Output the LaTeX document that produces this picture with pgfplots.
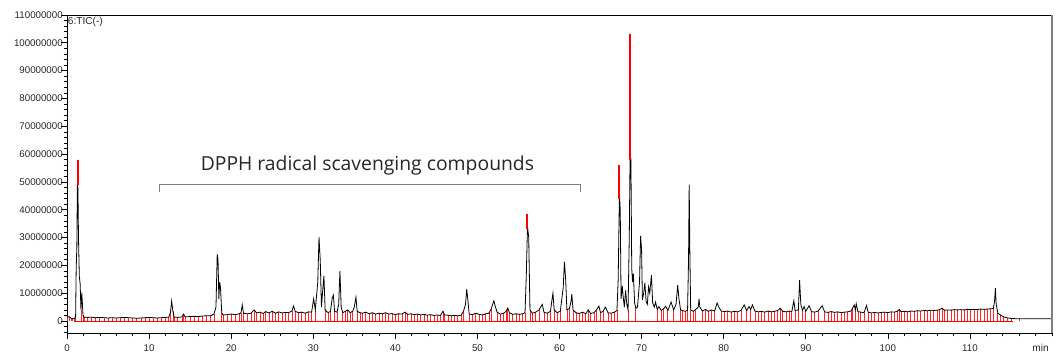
\documentclass[border=0pt]{standalone}
\usepackage{fontspec}
\setmainfont{Liberation Sans}
\newfontfamily\opensans{Open Sans}
\usepackage{pgfplots}
\usepackage{pgfplotstable}
\pgfplotsset{compat=1.18}
\pgfplotstableread{
t y
0 1.5
0.3 1.5
0.5 1.0
0.7 0.8
0.9 0.9
1.05 1.5
1.12 19
1.2 26.5
1.27 50
1.33 48
1.4 30
1.5 16
1.6 13.5
1.7 4
1.8 10.2
1.88 6
1.95 2
2.1 1.4
2.5 1.3
3.0 1.4
3.5 1.2
4.0 1.3
4.5 1.2
5.0 1.1
5.5 1.2
6.0 1.1
6.5 1.2
7.0 1.3
7.5 1.2
8.0 1.1
8.5 1.0
9.0 1.1
9.5 1.2
10.0 1.3
10.5 1.2
11.0 1.1
11.5 1.2
12.0 1.3
12.4 1.4
12.6 3
12.75 7.2
12.9 3.5
13.05 1.4
13.5 1.3
14.0 1.5
14.2 2.5
14.4 1.5
15.0 1.6
15.5 1.7
16.0 1.6
16.5 1.8
17.0 1.9
17.5 1.9
17.9 2.5
18.15 5
18.3 24
18.4 22
18.5 8
18.6 14
18.7 12
18.85 3
19.0 2.2
19.5 2.3
20.0 2.5
20.5 2.3
21.0 2.6
21.2 3
21.35 5.8
21.5 2.8
22.0 2.6
22.4 2.8
22.8 4
23.1 2.9
23.5 3.2
23.9 2.7
24.2 3.4
24.6 2.9
25.0 3.5
25.4 2.8
25.8 3.3
26.2 2.9
26.6 3.1
27.0 3.0
27.4 3.6
27.6 5.4
27.8 3.5
28.2 3.0
28.6 3.2
29.0 2.8
29.4 3.3
29.8 3.2
30.05 8
30.25 4
30.55 14
30.7 30.2
30.85 22
31.0 5
31.15 11
31.3 16.2
31.45 4
31.8 3
32.1 3.5
32.3 8
32.45 9.3
32.6 3.5
32.9 3.2
33.1 6
33.25 18
33.4 5
33.6 3
33.9 3.5
34.2 4
34.5 3
34.8 3.5
35.0 5
35.2 8.6
35.35 3.5
35.7 3
36.0 2.8
36.4 3.2
36.8 2.6
37.2 3.0
37.6 2.5
38.0 2.8
38.4 2.6
38.8 3.0
39.2 2.5
39.6 2.7
40.0 2.3
40.4 2.6
40.8 2.5
41.2 3.2
41.5 2.4
41.9 2.6
42.3 2.3
42.7 2.5
43.1 2.2
43.5 2.4
43.9 2.1
44.3 2.3
44.7 2.0
45.1 2.2
45.5 2.0
45.8 3.5
46.0 2.2
46.4 2.1
46.8 1.9
47.2 2.0
47.6 1.9
48.0 2.1
48.3 3.5
48.55 6
48.7 11.5
48.85 7
49.0 2.5
49.4 2.3
49.8 2.8
50.2 2.4
50.6 2.2
51.0 2.6
51.4 2.8
51.7 4.5
52.0 7.3
52.2 5
52.4 3.2
52.8 2.5
53.2 2.8
53.5 3.5
53.7 4.7
53.9 3.0
54.3 2.4
54.7 2.6
55.1 2.4
55.5 2.6
55.8 3
55.95 16
56.1 34
56.25 30
56.4 4
56.7 2.8
57.1 3.2
57.5 4
57.9 6
58.1 3.2
58.5 2.8
58.9 3.5
59.1 8
59.2 10
59.35 4
59.7 3
60.1 3.5
60.45 12
60.6 21.3
60.75 15
60.9 4
61.2 4.5
61.4 7
61.5 9.7
61.65 4
62.0 3
62.4 2.7
62.8 3.2
63.2 2.6
63.5 4
63.8 2.7
64.2 3.0
64.5 4
64.8 5.4
65.0 3.0
65.3 3.5
65.6 5
65.9 3.0
66.3 2.8
66.7 3.2
67.0 3.8
67.15 15
67.3 45.7
67.4 40
67.5 8
67.65 12.6
67.75 9
67.9 5
68.05 11
68.2 6
68.35 4
68.5 30
68.6 60
68.7 58
68.8 19
68.9 14
69.0 17
69.15 6.5
69.3 4.5
69.5 5
69.75 14
69.88 30.6
70.0 25.5
70.1 7.5
70.25 10
70.4 13.7
70.55 7
70.7 6
70.85 12.3
71.0 10
71.2 16.5
71.35 6.5
71.55 5
71.7 6.8
71.9 4.2
72.1 5.2
72.4 3.8
72.7 4.5
72.95 5.3
73.2 3.8
73.6 6.8
73.9 4
74.2 6
74.4 13
74.55 8
74.75 4
75.0 3.8
75.3 3.5
75.6 3.8
75.72 22
75.8 49
75.88 25
75.98 4
76.3 3.5
76.6 4.2
76.9 5
77.0 8
77.1 5
77.4 3.6
77.8 4.2
78.1 3.5
78.5 4.0
78.9 3.6
79.2 6.5
79.4 5
79.7 3.6
80.1 3.4
80.5 3.6
80.9 3.2
81.3 3.5
81.7 3.3
82.1 3.8
82.5 5.8
82.8 3.8
83.1 5.2
83.3 4.2
83.5 5.8
83.8 3.6
84.2 3.3
84.6 3.5
85.0 3.2
85.4 3.6
85.8 3.3
86.2 3.5
86.6 3.8
86.9 4.6
87.2 3.5
87.6 3.3
88.0 3.6
88.3 3.4
88.55 7.3
88.7 3.8
89.1 4
89.25 14.7
89.4 6
89.6 3.8
89.8 5.2
90.0 3.5
90.4 5.5
90.7 3.4
91.1 3.2
91.5 3.6
92.0 5.5
92.3 3.3
92.7 3.1
93.1 3.4
93.5 3.1
93.9 3.3
94.3 3.0
94.7 3.2
95.1 3.3
95.5 3.6
95.7 4.5
95.9 5.8
96.05 4
96.15 6.2
96.35 3.4
96.7 3.2
97.1 3.0
97.4 5.6
97.6 3.2
98.0 2.9
98.4 3.1
98.8 2.9
99.2 3.1
99.6 3.2
100.0 3.0
100.4 3.3
100.8 3.2
101.2 3.6
101.4 4.2
101.6 3.4
102.0 3.5
102.4 3.3
102.8 3.6
103.2 3.5
103.6 3.7
104.0 3.6
104.4 3.8
104.8 3.7
105.2 3.9
105.6 3.8
106.0 3.9
106.3 4.1
106.6 4.6
106.9 3.9
107.3 4.0
107.7 3.9
108.1 4.1
108.5 4.0
108.9 4.1
109.3 4.0
109.7 4.2
110.1 4.1
110.5 4.2
110.9 4.1
111.3 4.3
111.7 4.2
112.1 4.3
112.5 4.4
112.85 4.5
113.0 7
113.1 11.8
113.2 6
113.4 2.8
113.7 2.2
114.1 1.5
114.6 1.1
115.1 0.9
116 0.8
120 0.8
}\tic
\begin{document}
\begin{tikzpicture}
\begin{axis}[
  scale only axis,
  width=738.75pt, height=238.5pt,
  xmin=0, xmax=120, ymin=-4.3, ymax=110,
  axis line style={line width=0.6pt},
  xtick={0,10,...,110},
  minor xtick={0,2,...,120},
  ytick={0,10,...,110},
  yticklabels={0,10000000,20000000,30000000,40000000,50000000,60000000,70000000,80000000,90000000,100000000,110000000},
  minor ytick={-4,-2,...,110},
  tick align=outside,
  xtick pos=bottom, ytick pos=left,
  major tick length=4.5pt, minor tick length=2.5pt,
  tick style={black, line width=0.5pt},
  /pgf/number format/assume math mode=true,
  ticklabel style={font=\fontsize{7.3}{8.5}\selectfont, text=black!85},
  yticklabel style={inner sep=0pt, xshift=1.5pt},
  xticklabel style={inner sep=0pt, yshift=-4pt},
  clip mode=individual,
]
\addplot[red, line width=0.5pt] coordinates {(0.9,0) (115.3,0)};
\addplot[red!85, ycomb, line width=0.55pt, restrict y to domain=-1:4.7, forget plot] table[x=t,y=y] {\tic};
\addplot[black, line width=0.6pt] table[x=t,y=y] {\tic};
\addplot[red, line width=1.5pt] coordinates {(1.28,49) (1.28,58)};
\addplot[red, line width=1.5pt] coordinates {(56.1,33) (56.1,38.5)};
\addplot[red, line width=1.5pt] coordinates {(67.3,44) (67.3,56)};
\addplot[red, line width=1.5pt] coordinates {(68.62,58) (68.62,103)};
\draw[gray, line width=0.6pt] (axis cs:11.3,46.4) -- (axis cs:11.3,49) -- (axis cs:62.6,49) -- (axis cs:62.6,46.4);
\node[font=\opensans\fontsize{14.5}{17}\selectfont, text=black!85] at (axis cs:36.6,56) {DPPH radical scavenging compounds};
\node[anchor=north west, inner sep=0pt, font=\fontsize{7.6}{9}\selectfont, text=black!85] at ([xshift=0.5pt,yshift=-1.5pt]rel axis cs:0,1) {6:TIC(-)};
\node[anchor=north, inner sep=0pt, font=\fontsize{7.6}{9}\selectfont, text=black!85] at ([yshift=-8.5pt]axis cs:118.6,-4.3) {min};
\draw[gray, line width=1.4pt] (rel axis cs:1,0) -- (rel axis cs:1,1);
\end{axis}
\useasboundingbox ([shift={(-50.25pt,-18pt)}]current axis.south west) rectangle ([shift={(6pt,11.25pt)}]current axis.north east);
\end{tikzpicture}
\end{document}
